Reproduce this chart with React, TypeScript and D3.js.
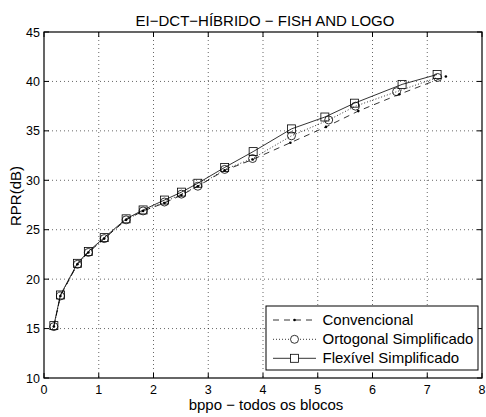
import React from "react";
import * as d3 from "d3";

const title = "EI\u2212DCT\u2212H\u00cdBRIDO \u2212 FISH AND LOGO";
const xLabel = "bppo \u2212 todos os blocos";
const yLabel = "RPR(dB)";
const xTicks = [0, 1, 2, 3, 4, 5, 6, 7, 8];
const yTicks = [10, 15, 20, 25, 30, 35, 40, 45];

const seriesNames = ["Convencional", "Ortogonal Simplificado", "Flex\u00edvel Simplificado"];

const xConv = [0.18, 0.3, 0.61, 0.81, 1.1, 1.5, 1.81, 2.2, 2.51, 2.81, 3.3, 3.81, 4.5, 5.15, 5.74, 6.49, 7.34];
const yConv = [15.2, 18.3, 21.5, 22.7, 24.1, 26.0, 26.9, 27.7, 28.5, 29.4, 31.0, 32.1, 33.8, 35.4, 37.0, 38.7, 40.5];

const xOrto = [0.18, 0.3, 0.61, 0.81, 1.1, 1.5, 1.81, 2.2, 2.51, 2.81, 3.3, 3.81, 4.52, 5.2, 5.69, 6.44, 7.19];
const yOrto = [15.2, 18.3, 21.5, 22.7, 24.1, 26.0, 26.9, 27.8, 28.6, 29.4, 31.1, 32.2, 34.5, 36.1, 37.5, 38.96, 40.4];

const xFlex = [0.18, 0.3, 0.61, 0.81, 1.1, 1.5, 1.81, 2.2, 2.51, 2.81, 3.3, 3.82, 4.52, 5.13, 5.67, 6.54, 7.18];
const yFlex = [15.3, 18.4, 21.6, 22.8, 24.2, 26.1, 27.0, 28.0, 28.8, 29.7, 31.3, 32.9, 35.2, 36.4, 37.8, 39.7, 40.7];

const W = 486, H = 417;
const L = 44, R = 482, T = 32, B = 378;

export default function App() {
  const x = d3.scaleLinear().domain([0, 8]).range([L, R]);
  const y = d3.scaleLinear().domain([10, 45]).range([B, T]);
  const line = d3.line<[number, number]>().x(d => x(d[0])).y(d => y(d[1]));
  const pts = (xs: number[], ys: number[]) => xs.map((v, i) => [v, ys[i]] as [number, number]);
  const conv = pts(xConv, yConv), orto = pts(xOrto, yOrto), flex = pts(xFlex, yFlex);
  const font = "Liberation Sans, Arial, Helvetica, sans-serif";
  const tl = 5;
  const lgX = 266, lgY = 306, lgW = 212, lgH = 64;
  const rows = [320, 339.3, 358.3];
  return (
    <svg width={W} height={H} style={{ position: "absolute", left: 0, top: 0, background: "#fff" }} fontFamily={font}>
      <rect x={0} y={0} width={W} height={H} fill="#fff" />
      {/* grid */}
      {xTicks.slice(1, -1).map(t => (
        <line key={"gx" + t} x1={x(t)} x2={x(t)} y1={T} y2={B} stroke="#000" strokeWidth={0.6} strokeDasharray="1,3" />
      ))}
      {yTicks.slice(1, -1).map(t => (
        <line key={"gy" + t} x1={L} x2={R} y1={y(t)} y2={y(t)} stroke="#000" strokeWidth={0.6} strokeDasharray="1,3" />
      ))}
      {/* ticks */}
      {xTicks.map(t => (
        <g key={"tx" + t}>
          <line x1={x(t)} x2={x(t)} y1={B} y2={B - tl} stroke="#000" />
          <line x1={x(t)} x2={x(t)} y1={T} y2={T + tl} stroke="#000" />
          <text x={x(t)} y={B + 15.5} fontSize={12.5} textAnchor="middle">{t}</text>
        </g>
      ))}
      {yTicks.map(t => (
        <g key={"ty" + t}>
          <line x1={L} x2={L + tl} y1={y(t)} y2={y(t)} stroke="#000" />
          <line x1={R} x2={R - tl} y1={y(t)} y2={y(t)} stroke="#000" />
          <text x={L - 4} y={y(t) + 4.5} fontSize={12.5} textAnchor="end">{t}</text>
        </g>
      ))}
      <rect x={L} y={T} width={R - L} height={B - T} fill="none" stroke="#000" strokeWidth={1.2} />
      {/* series */}
      <path d={line(conv) || ""} fill="none" stroke="#000" strokeWidth={0.8} strokeDasharray="6,5" />
      {conv.map((p, i) => <circle key={"c" + i} cx={x(p[0])} cy={y(p[1])} r={1.3} fill="#000" />)}
      <path d={line(orto) || ""} fill="none" stroke="#000" strokeWidth={0.8} strokeDasharray="1,2" />
      {orto.map((p, i) => <circle key={"o" + i} cx={x(p[0])} cy={y(p[1])} r={4} fill="none" stroke="#000" strokeWidth={0.8} />)}
      <path d={line(flex) || ""} fill="none" stroke="#000" strokeWidth={0.8} />
      {flex.map((p, i) => <rect key={"f" + i} x={x(p[0]) - 4} y={y(p[1]) - 4} width={8} height={8} fill="none" stroke="#000" strokeWidth={0.8} />)}
      {/* legend */}
      <rect x={lgX} y={lgY} width={lgW} height={lgH} fill="#fff" stroke="#000" strokeWidth={1} />
      <line x1={273} x2={316} y1={rows[0]} y2={rows[0]} stroke="#000" strokeWidth={0.8} strokeDasharray="6,5" />
      <circle cx={294.5} cy={rows[0]} r={1.3} fill="#000" />
      <line x1={273} x2={316} y1={rows[1]} y2={rows[1]} stroke="#000" strokeWidth={0.8} strokeDasharray="1,2" />
      <circle cx={294.5} cy={rows[1]} r={4} fill="#fff" stroke="#000" strokeWidth={0.8} />
      <line x1={273} x2={316} y1={rows[2]} y2={rows[2]} stroke="#000" strokeWidth={0.8} />
      <rect x={290.5} y={rows[2] - 4} width={8} height={8} fill="#fff" stroke="#000" strokeWidth={0.8} />
      {seriesNames.map((s, i) => (
        <text key={s} x={322.5} y={rows[i] + 5} fontSize={15}>{s}</text>
      ))}
      {/* labels */}
      <text x={265} y={25.5} fontSize={15} textAnchor="middle">{title}</text>
      <text x={266} y={409.5} fontSize={15} textAnchor="middle">{xLabel}</text>
      <text transform={`translate(21,196) rotate(-90)`} fontSize={15} textAnchor="middle">{yLabel}</text>
    </svg>
  );
}
